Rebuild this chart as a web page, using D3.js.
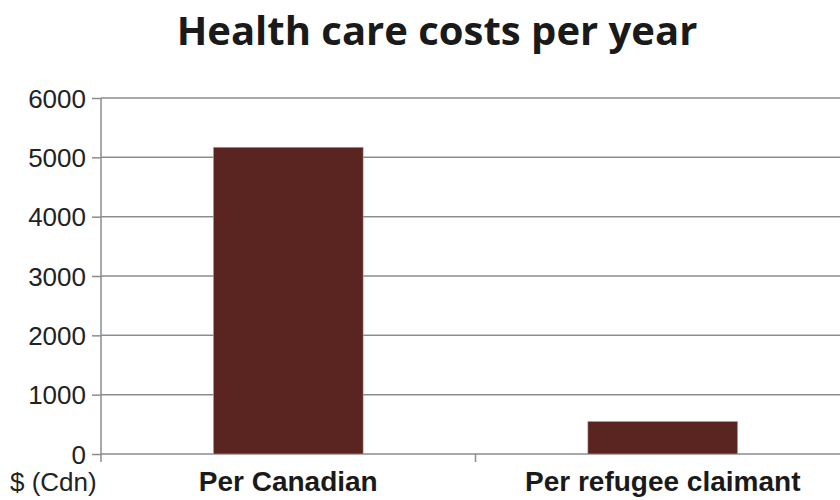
<!DOCTYPE html>
<html><head><meta charset="utf-8">
<script src="https://cdn.jsdelivr.net/npm/d3@7"></script>
<style>body{margin:0;background:#fff}svg{display:block}</style>
</head><body>
<svg id="c" width="840" height="500"></svg>
<script>
const categories = ["Per Canadian", "Per refugee claimant"];
const values = [5170, 550];
const yTicks = [0, 1000, 2000, 3000, 4000, 5000, 6000];
const title = "Health care costs per year";
const unitLabel = "$ (Cdn)";

(function () {
const svg = d3.select("#c");
const pL = 101, pR = 850, pT = 98, pB = 454;
const grid = "#8f8b8b";

const x = d3.scaleBand().domain(categories).range([pL, pR]).paddingInner(0.6).paddingOuter(0.3);
const y = d3.scaleLinear().domain([0, 6000]).range([pB, pT]);

// gridlines
svg.append("g").selectAll("line").data(yTicks).join("line")
  .attr("x1", pL).attr("x2", 840)
  .attr("y1", d => y(d)).attr("y2", d => y(d))
  .attr("stroke", grid).attr("stroke-width", 1.5);

// y axis
const ya = svg.append("g").attr("transform", `translate(${pL},0)`)
  .call(d3.axisLeft(y).tickValues(yTicks).tickSize(9).tickPadding(6).tickFormat(d3.format("d")));
ya.select(".domain").attr("stroke", grid).attr("stroke-width", 1.5).attr("d", `M0,${pT}V${pB + 8}`);
ya.selectAll(".tick line").attr("stroke", grid).attr("stroke-width", 1.5);
ya.selectAll(".tick text").attr("font-family", "Liberation Sans, Arial, sans-serif")
  .attr("font-size", 26).attr("fill", "#222").attr("dy", "0.35em");

// bars
svg.append("g").selectAll("rect").data(values).join("rect")
  .attr("x", (d, i) => x(categories[i]))
  .attr("width", x.bandwidth())
  .attr("y", d => y(d))
  .attr("height", d => y(0) - y(d))
  .attr("fill", "#5a2420")
  .attr("stroke", "#c9a9a3").attr("stroke-width", 0.6);

// middle x tick
const mid = (x(categories[0]) + x.bandwidth() + x(categories[1])) / 2;
svg.append("line").attr("x1", mid).attr("x2", mid).attr("y1", pB).attr("y2", pB + 8)
  .attr("stroke", grid).attr("stroke-width", 1.5);

// category labels
svg.append("g").selectAll("text").data(categories).join("text")
  .attr("x", d => x(d) + x.bandwidth() / 2)
  .attr("y", 491)
  .attr("text-anchor", "middle")
  .attr("font-family", "Liberation Sans, Arial, sans-serif")
  .attr("font-weight", "bold").attr("font-size", 28).attr("fill", "#1a1a1a")
  .text(d => d);

svg.append("text").attr("x", 10).attr("y", 491)
  .attr("font-family", "Liberation Sans, Arial, sans-serif")
  .attr("font-size", 26).attr("fill", "#222").text(unitLabel);

svg.append("text").attr("x", 437).attr("y", 45).attr("text-anchor", "middle")
  .attr("font-family", "Open Sans, sans-serif").attr("font-weight", "bold")
  .attr("font-size", 40).attr("fill", "#1a1a1a")
  .text(title);
})();
</script>
</body></html>
